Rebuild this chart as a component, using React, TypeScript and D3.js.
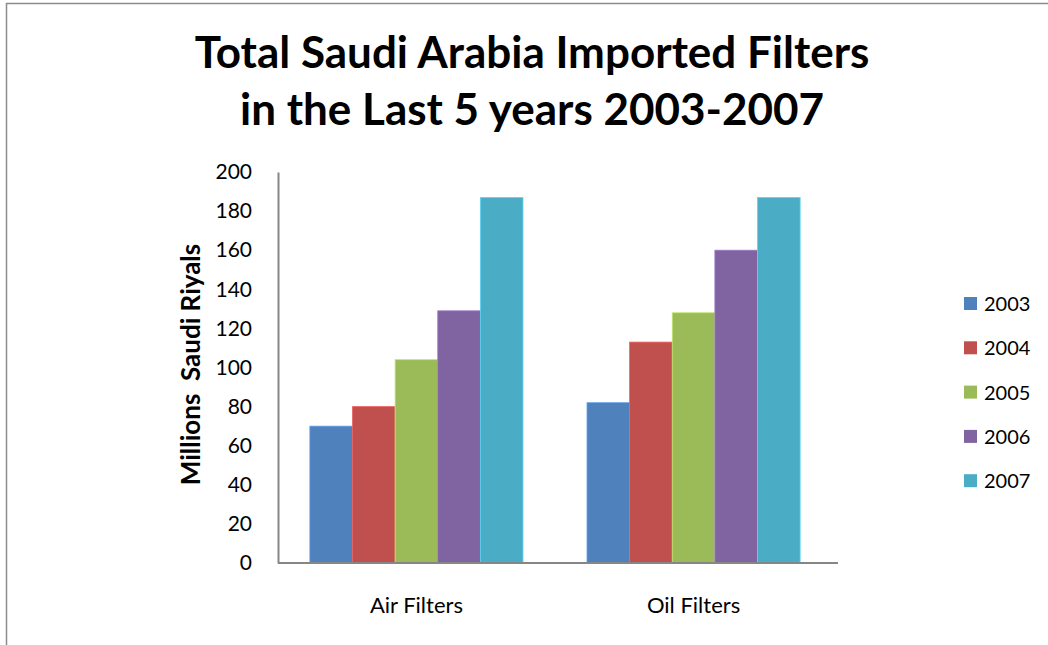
import React, { useEffect, useRef } from "react";
import * as d3 from "d3";

const categories = ["Air Filters", "Oil Filters"];
const years = ["2003", "2004", "2005", "2006", "2007"];
const airValues = [70, 80, 104, 129, 187];
const oilValues = [82, 113, 128, 160, 187];
const yTicks = [0, 20, 40, 60, 80, 100, 120, 140, 160, 180, 200];
const COLORS = ["#4F81BD", "#C0504D", "#9BBB59", "#8064A2", "#4BACC6"];

const WIDTH = 1048;
const HEIGHT = 645;
const FONT = "Lato, 'Open Sans', sans-serif";

const App: React.FC = () => {
    const svgRef = useRef<SVGSVGElement | null>(null);

    useEffect(() => {
        if (!svgRef.current) return;
        const svg = d3.select(svgRef.current);
        svg.selectAll("*").remove();

        const margin = { top: 172, left: 278, right: 210, bottom: 82 };
        const innerW = WIDTH - margin.left - margin.right;
        const innerH = HEIGHT - margin.top - margin.bottom;

        // chart area border
        svg.append("rect")
            .attr("x", 6.5)
            .attr("y", 3.5)
            .attr("width", WIDTH + 20)
            .attr("height", HEIGHT + 20)
            .attr("fill", "white")
            .attr("stroke", "#8c8c8c")
            .attr("stroke-width", 1.5);

        // title
        const title = svg.append("text")
            .attr("text-anchor", "middle")
            .style("font-family", FONT)
            .style("font-weight", "bold")
            .style("font-size", "44px")
            .attr("fill", "#000");
        title.append("tspan").attr("x", 532).attr("y", 68).text("Total Saudi Arabia Imported Filters");
        title.append("tspan").attr("x", 532).attr("y", 125).text("in the Last 5 years 2003-2007");

        const g = svg.append("g").attr("transform", `translate(${margin.left},${margin.top})`);

        const data = [airValues, oilValues];

        const x0 = d3.scaleBand().domain(categories).range([0, innerW - 6]).paddingInner(0.231).paddingOuter(0.115);
        const x1 = d3.scaleBand().domain(years).range([0, x0.bandwidth()]);
        const y = d3.scaleLinear().domain([0, 200]).range([innerH, 0]);

        categories.forEach((cat, ci) => {
            const grp = g.append("g").attr("transform", `translate(${x0(cat)},0)`);
            years.forEach((yr, yi) => {
                const v = data[ci][yi];
                grp.append("rect")
                    .attr("x", x1(yr)!)
                    .attr("y", y(v))
                    .attr("width", x1.bandwidth())
                    .attr("height", innerH - y(v))
                    .attr("fill", COLORS[yi])
                    .attr("stroke", d3.color(COLORS[yi])!.brighter(0.6).toString())
                    .attr("stroke-width", 0.8);
            });
        });

        // y axis
        const yAxis = g.append("g").call(
            d3.axisLeft(y).tickValues(yTicks).tickSize(0).tickPadding(26)
        );
        yAxis.select(".domain").attr("stroke", "#868686").attr("stroke-width", 2);
        yAxis.selectAll("text")
            .style("font-family", FONT)
            .style("font-size", "21px")
            .attr("fill", "#000");

        // x axis
        const xAxis = g.append("g")
            .attr("transform", `translate(0,${innerH})`)
            .call(d3.axisBottom(x0).tickSize(0).tickPadding(34));
        xAxis.select(".domain").remove();
        xAxis.append("line")
            .attr("x1", 0)
            .attr("x2", innerW)
            .attr("stroke", "#868686")
            .attr("stroke-width", 2);
        xAxis.selectAll("text")
            .style("font-family", FONT)
            .style("font-size", "22px")
            .attr("fill", "#000");

        // y axis label
        svg.append("text")
            .attr("transform", `translate(200,${margin.top + innerH / 2 - 3}) rotate(-90)`)
            .attr("text-anchor", "middle")
            .style("font-family", FONT)
            .style("font-weight", "bold")
            .style("font-size", "26px")
            .style("white-space", "pre")
            .text("Millions  Saudi Riyals");

        // legend
        const legend = svg.append("g").attr("transform", "translate(964,297)");
        years.forEach((yr, i) => {
            const row = legend.append("g").attr("transform", `translate(0,${i * 44.3})`);
            row.append("rect")
                .attr("width", 13)
                .attr("height", 13)
                .attr("fill", COLORS[i]);
            row.append("text")
                .attr("x", 20)
                .attr("y", 14)
                .style("font-family", FONT)
                .style("font-size", "20px")
                .text(yr);
        });
    }, []);

    return (
        <div style={{ position: "absolute", left: 0, top: 0 }}>
            <svg ref={svgRef} width={WIDTH} height={HEIGHT} style={{ display: "block" }} />
        </div>
    );
};

export default App;
